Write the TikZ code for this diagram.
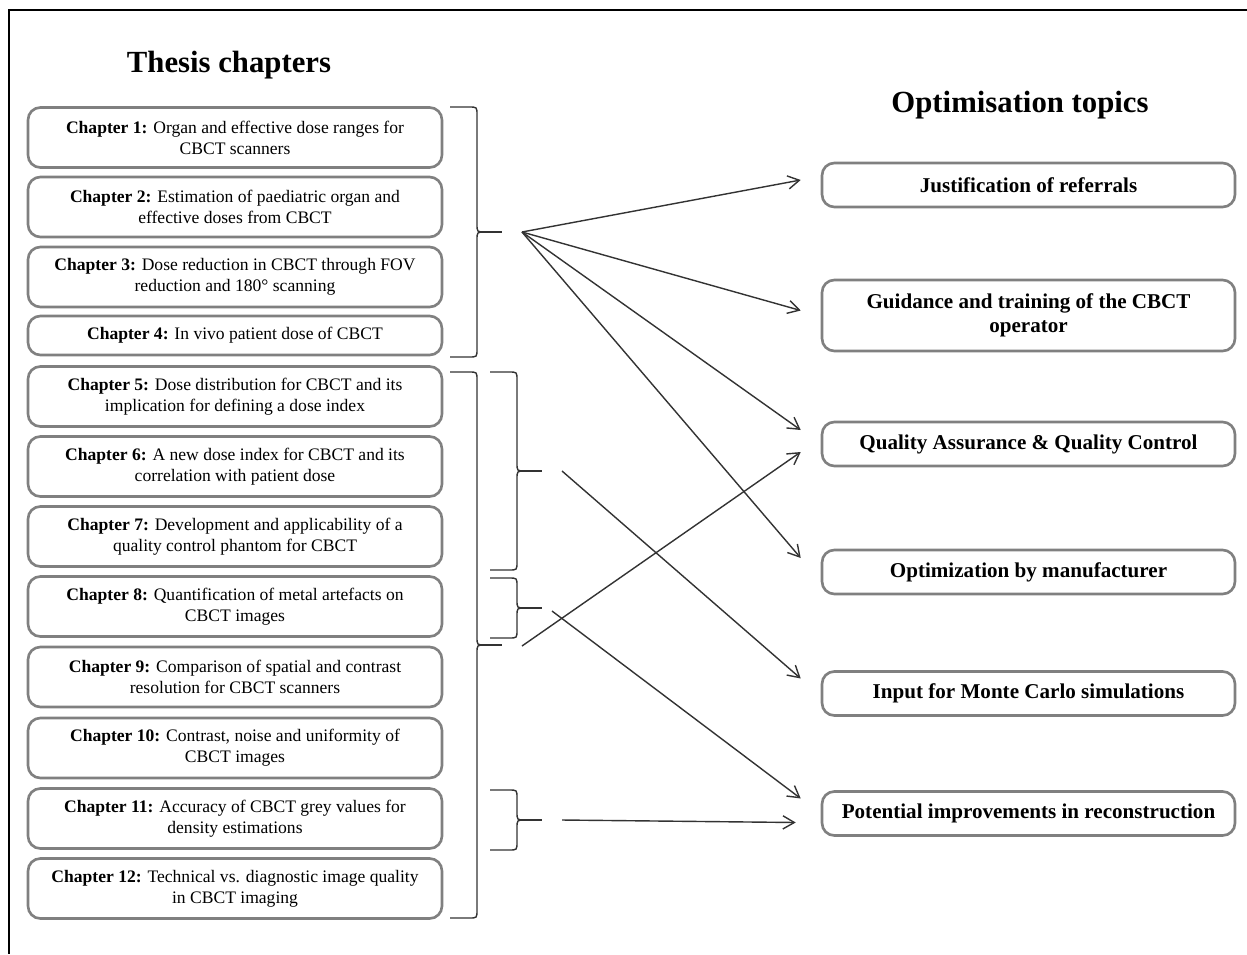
\documentclass[tikz,border=0pt]{standalone}
\usepackage{fontspec}
\setmainfont{Liberation Serif}
\usetikzlibrary{calc}
\usetikzlibrary{arrows.meta}
\tikzset{>=latex}
\tikzstyle{chap} = [draw=black!50, line width=1.5pt, rounded corners=7pt, fill=white, align=center, minimum width=8.28cm, minimum height=1.2cm, inner sep=2pt, font=\fontsize{10}{12}\selectfont]
\tikzstyle{topic} = [chap, minimum width=8.26cm, minimum height=0.88cm, font=\fontsize{12}{14}\selectfont\bfseries]
\tikzstyle{brc} = [line width=0.8pt, draw=black!80]
\tikzstyle{lnk} = [-{Straight Barb[length=6.5pt,width=7.5pt]}, line width=0.8pt, draw=black!80]

% curly bracket: #1 left x, #2 top y, #3 bottom y, #4 name of the tip
\newcommand{\chbrace}[4]{%
  \pgfmathsetmacro{\brX}{#1+27}%
  \pgfmathsetmacro{\brY}{(#2+#3)/2}%
  \draw[brc] (#1,#2) -- (\brX-8,#2) .. controls (\brX,#2) .. (\brX,#2+8) -- (\brX,\brY-8)
    .. controls (\brX,\brY) .. (\brX+8,\brY) .. controls (\brX,\brY) .. (\brX,\brY+8)
    -- (\brX,#3-8) .. controls (\brX,#3) .. (\brX-8,#3) -- (#1,#3);
  \draw[brc] (\brX+4,\brY) -- (#1+52,\brY);
  \coordinate (#4) at (#1+52,\brY);
}

\begin{document}
\begin{tikzpicture}[x=0.02cm, y=-0.02cm]
\useasboundingbox (0,0) rectangle (1247,954);
\draw[line width=1.5pt] (1247,10) -- (9,10) -- (9,954);

% headings
\node [font=\fontsize{17.5}{20}\selectfont\bfseries] (hdl) at (229,65) {Thesis chapters};
\node [font=\fontsize{17.5}{20}\selectfont\bfseries] (hdr) at (1020,105) {Optimisation topics};

% chapters
\node [chap] (c1) at (235,137.5) {\textbf{Chapter 1:} Organ and effective dose ranges for\\CBCT scanners};
\node [chap] (c2) at (235,207) {\textbf{Chapter 2:} Estimation of paediatric organ and\\effective doses from CBCT};
\node [chap] (c3) at (235,277) {\textbf{Chapter 3:} Dose reduction in CBCT through FOV\\reduction and 180° scanning};
\node [chap, minimum height=0.78cm] (c4) at (235,335.5) {\textbf{Chapter 4:} In vivo patient dose of CBCT};
\node [chap] (c5) at (235,396.5) {\textbf{Chapter 5:} Dose distribution for CBCT and its\\implication for defining a dose index};
\node [chap] (c6) at (235,466.5) {\textbf{Chapter 6:} A new dose index for CBCT and its\\correlation with patient dose};
\node [chap] (c7) at (235,536.5) {\textbf{Chapter 7:} Development and applicability of a\\quality control phantom for CBCT};
\node [chap] (c8) at (235,606.5) {\textbf{Chapter 8:} Quantification of metal artefacts on\\CBCT images};
\node [chap] (c9) at (235,677) {\textbf{Chapter 9:} Comparison of spatial and contrast\\resolution for CBCT scanners};
\node [chap] (c10) at (235,748) {\textbf{Chapter 10:} Contrast, noise and uniformity of\\CBCT images};
\node [chap] (c11) at (235,818.5) {\textbf{Chapter 11:} Accuracy of CBCT grey values for\\density estimations};
\node [chap] (c12) at (235,888.5) {\textbf{Chapter 12:} Technical vs. diagnostic image quality\\in CBCT imaging};

% topics
\node [topic] (jus) at (1028.5,185) {Justification of referrals};
\node [topic, minimum height=1.42cm] (gui) at (1028.5,315.5) {Guidance and training of the CBCT\\operator};
\node [topic] (qa) at (1028.5,444) {Quality Assurance \& Quality Control};
\node [topic] (opt) at (1028.5,572) {Optimization by manufacturer};
\node [topic] (mc) at (1028.5,693.5) {Input for Monte Carlo simulations};
\node [topic] (pot) at (1028.5,813.5) {Potential improvements in reconstruction};

% brackets
\chbrace{450}{107}{357}{bA}
\chbrace{450}{372}{918}{bB}
\chbrace{490}{372}{570}{bC}
\chbrace{490}{578}{638}{bD}
\chbrace{490}{790}{850}{bE}

% links
\draw [lnk] ($(bA)+(20,0)$) -- ($(jus.west)+(-20,-5)$);
\draw [lnk] ($(bA)+(20,0)$) -- ($(gui.west)+(-20,-5)$);
\draw [lnk] ($(bA)+(20,0)$) -- ($(qa.west)+(-20,-14)$);
\draw [lnk] ($(bA)+(20,0)$) -- ($(opt.west)+(-20,-14)$);
\draw [lnk] ($(bB)+(20,1)$) -- ($(qa.west)+(-20,8)$);
\draw [lnk] ($(bC)+(20,0)$) -- ($(mc.west)+(-20,-15)$);
\draw [lnk] ($(bD)+(10,3)$) -- ($(pot.west)+(-20,-15)$);
\draw [lnk] ($(bE)+(20,0)$) -- ($(pot.west)+(-25,9)$);
\end{tikzpicture}
\end{document}
